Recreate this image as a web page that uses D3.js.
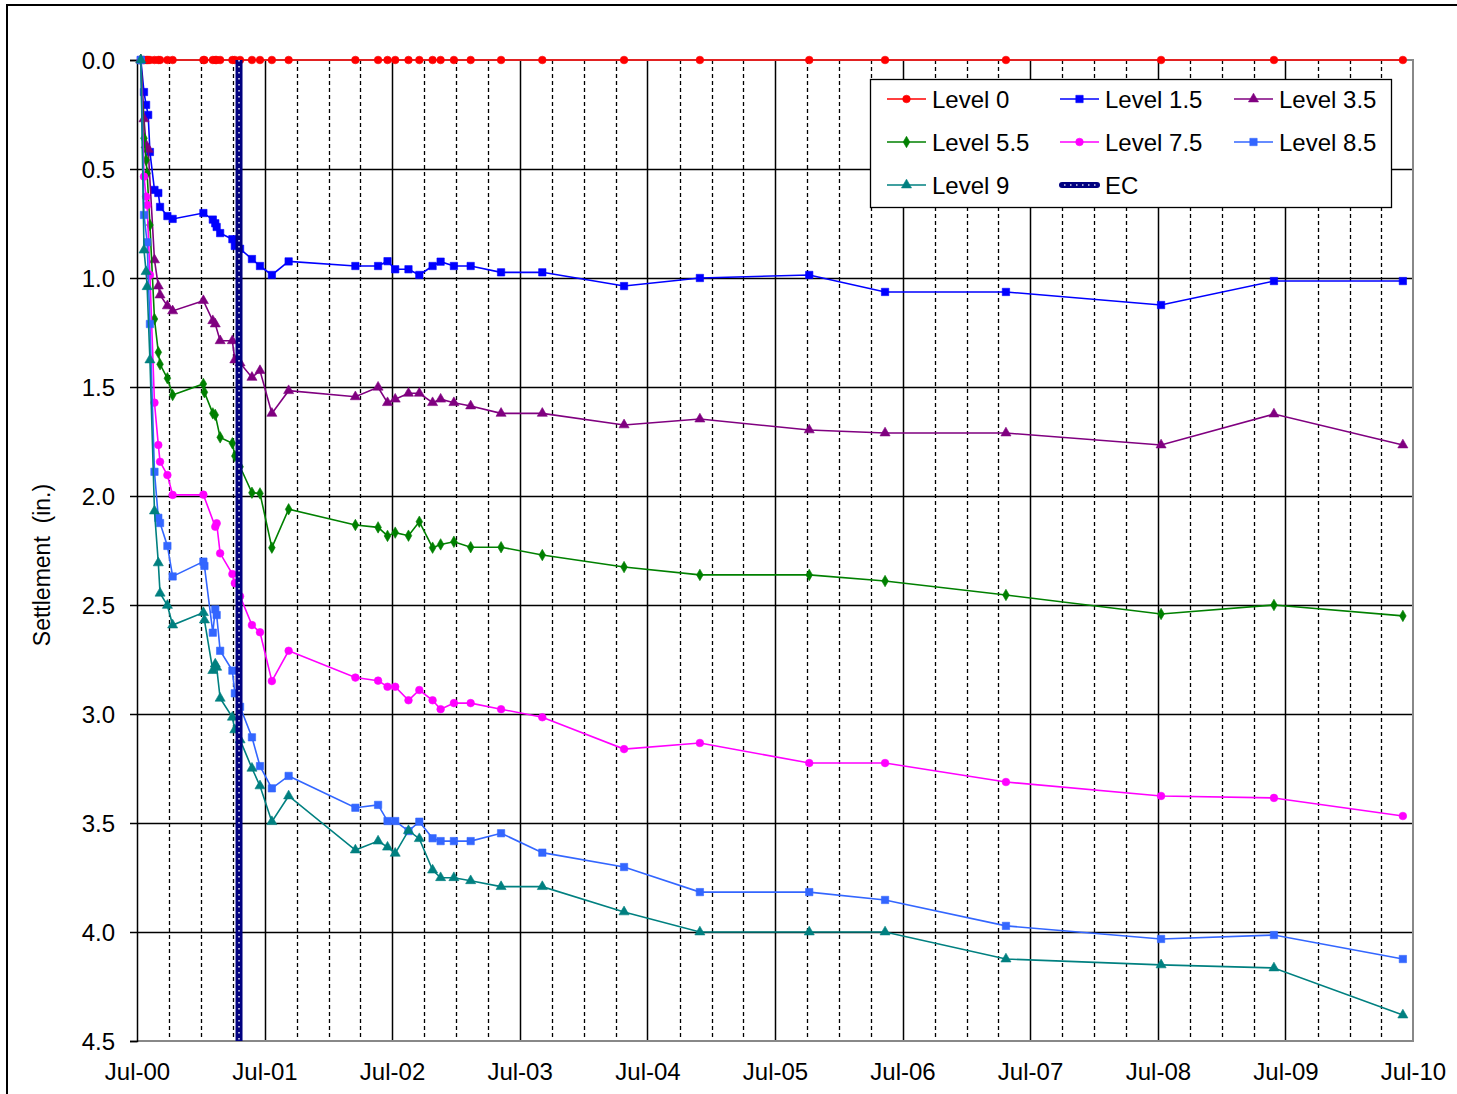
<!DOCTYPE html>
<html>
<head>
<meta charset="utf-8">
<script src="https://cdn.jsdelivr.net/npm/d3@7"></script>
<style>
  html, body { margin: 0; padding: 0; background: #fff; }
  svg { display: block; font-family: "Liberation Sans", Arial, sans-serif; }
</style>
</head>
<body>
<svg id="chart" width="1457" height="1094"></svg>
<script>
// Survey dates shared by all settlement gauges
const surveyDates = [
  "2000-07-12","2000-07-21","2000-07-27","2000-07-30","2000-08-02","2000-08-07","2000-08-20","2000-08-31","2000-09-05","2000-09-26","2000-10-11",
  "2001-01-07","2001-01-10","2001-02-03","2001-02-10","2001-02-14","2001-02-24","2001-03-31","2001-04-07","2001-04-22","2001-05-26","2001-06-18","2001-07-22","2001-09-08",
  "2002-03-18","2002-05-22","2002-06-18","2002-07-10","2002-08-17","2002-09-17","2002-10-25","2002-11-17","2002-12-25",
  "2003-02-11","2003-05-09","2003-09-04","2004-04-25","2004-11-28","2005-10-07","2006-05-12","2007-04-23","2008-07-10","2009-05-29","2010-06-02"
];

// Settlement (in.) per level; null = no reading on that date
const level0 = [
  0,0,0,0,0,0,0,0,0,0,0,
  0,0,0,0,0,0,0,0,0,0,0,0,0,
  0,0,0,0,0,0,0,0,0,
  0,0,0,0,0,0,0,0,0,0,0
];
const level1_5 = [
  0,0.147,0.206,null,0.252,0.422,0.596,0.61,0.674,0.716,0.729,
  0.702,null,0.732,0.749,0.766,0.794,0.822,0.853,0.866,0.913,0.945,0.986,0.924,
  0.945,0.945,0.923,0.960,0.960,0.986,0.945,0.925,0.945,
  0.945,0.974,0.974,1.037,1.0,0.986,1.064,1.064,1.124,1.014,1.014
];
const level3_5 = [
  0,0.27,0.39,null,0.41,null,0.917,1.037,1.078,1.128,1.151,
  1.104,null,1.196,1.211,null,1.288,1.288,1.376,1.39,1.456,1.425,1.621,1.517,
  1.545,1.501,1.572,1.556,1.529,1.529,1.572,1.556,1.572,
  1.587,1.621,1.621,1.674,1.647,1.697,1.711,1.711,1.766,1.624,1.766
];
const level5_5 = [
  0,0.359,0.459,0.52,null,0.757,1.188,1.341,1.396,1.46,1.537,
  1.486,1.524,1.621,1.628,null,1.731,1.758,1.817,1.866,1.985,1.988,2.237,2.061,
  2.133,2.144,2.183,2.168,2.182,2.118,2.237,2.222,2.21,
  2.235,2.235,2.271,2.326,2.362,2.362,2.39,2.454,2.541,2.5,2.55
];
const level7_5 = [
  0,0.535,0.627,0.665,null,0.986,1.572,1.766,1.843,1.904,1.995,
  1.994,null,null,2.141,2.125,2.263,2.358,2.4,2.46,2.592,2.625,2.849,2.71,
  2.833,2.847,2.875,2.875,2.937,2.89,2.937,2.978,2.95,
  2.95,2.978,3.015,3.161,3.133,3.225,3.225,3.312,3.376,3.385,3.468
];
const level8_5 = [
  0,0.711,null,0.836,null,1.211,1.889,2.10,2.124,2.229,2.369,
  2.301,2.321,2.627,2.52,2.546,2.71,2.801,2.905,2.967,3.107,3.239,3.341,3.284,
  3.43,3.417,3.491,3.491,3.537,3.494,3.57,3.583,3.583,
  3.583,3.547,3.636,3.702,3.817,3.817,3.853,3.972,4.032,4.014,4.124
];
const level9 = [
  0,0.872,0.971,1.04,null,1.376,2.069,2.307,2.446,2.502,2.592,
  2.535,2.569,2.801,2.771,2.786,2.928,3.015,3.073,3.119,3.249,3.33,3.494,3.376,
  3.624,3.583,3.611,3.639,3.535,3.572,3.716,3.751,3.751,
  3.765,3.792,3.792,3.908,4.0,4.0,4.0,4.124,4.151,4.165,4.381
];

// End of construction marker
const ecDates = ["2001-04-19", "2001-04-19"];
const ecValues = [0, 4.5];

// Axis tick labels
const yTickValues = [0, 0.5, 1.0, 1.5, 2.0, 2.5, 3.0, 3.5, 4.0, 4.5];
const xTickYears = ["2000-07-01","2001-07-01","2002-07-01","2003-07-01","2004-07-01","2005-07-01",
                    "2006-07-01","2007-07-01","2008-07-01","2009-07-01","2010-07-01"];

const seriesNames = ["Level 0","Level 1.5","Level 3.5","Level 5.5","Level 7.5","Level 8.5","Level 9"];
const seriesValues = [level0, level1_5, level3_5, level5_5, level7_5, level8_5, level9];
const seriesColors = ["#FF0000","#0000FF","#800080","#008000","#FF00FF","#3366FF","#008080"];
const seriesMarkers = ["circle","square","triangle","diamond","circle","square","triangle"];

const parse = d3.timeParse("%Y-%m-%d");
const svg = d3.select("#chart");

// Outer chart frame
svg.append("rect").attr("x", 7).attr("y", 5).attr("width", 1470).attr("height", 1120)
  .attr("fill", "none").attr("stroke", "#000").attr("stroke-width", 2);

const plotLeft = 137, plotRight = 1413, plotTop = 60, plotBottom = 1041;
const x = d3.scaleTime().domain([parse("2000-07-01"), parse("2010-07-01")]).range([plotLeft, plotRight]);
const y = d3.scaleLinear().domain([0, 4.5]).range([plotTop, plotBottom]);

// Quarterly (dashed) and yearly (solid) vertical gridlines
const months = d3.timeMonth.every(3).range(parse("2000-07-01"), parse("2010-07-02"));
const grid = svg.append("g");
grid.selectAll("line.q").data(months.filter(d => d.getMonth() !== 6)).enter().append("line")
  .attr("x1", d => Math.round(x(d)) + 0.5).attr("x2", d => Math.round(x(d)) + 0.5)
  .attr("y1", plotTop).attr("y2", plotBottom)
  .attr("stroke", "#000").attr("stroke-width", 1.3).attr("stroke-dasharray", "4,3");
grid.selectAll("line.yr").data(months.filter(d => d.getMonth() === 6 && x(d) > plotLeft + 1 && x(d) < plotRight - 1)).enter().append("line")
  .attr("x1", d => Math.round(x(d)) + 0.5).attr("x2", d => Math.round(x(d)) + 0.5)
  .attr("y1", plotTop).attr("y2", plotBottom)
  .attr("stroke", "#000").attr("stroke-width", 1.5);
// Horizontal gridlines
grid.selectAll("line.h").data(yTickValues.slice(1, -1)).enter().append("line")
  .attr("x1", plotLeft).attr("x2", plotRight)
  .attr("y1", d => Math.round(y(d)) + 0.5).attr("y2", d => Math.round(y(d)) + 0.5)
  .attr("stroke", "#000").attr("stroke-width", 1.5);

// Plot border (grey)
svg.append("path")
  .attr("d", `M${plotLeft},${plotTop}H${plotRight}V${plotBottom}H${plotLeft}`)
  .attr("fill", "none").attr("stroke", "#888").attr("stroke-width", 2);

// Y axis
const yAxis = svg.append("g").attr("transform", `translate(${plotLeft},0)`)
  .call(d3.axisLeft(y).tickValues(yTickValues).tickFormat(d3.format(".1f")).tickSize(7).tickPadding(15));
yAxis.select(".domain").attr("stroke", "#000").attr("stroke-width", 1.5);
yAxis.selectAll(".tick line").attr("stroke", "#000").attr("stroke-width", 1.5);
yAxis.selectAll(".tick text").attr("font-size", 24).attr("fill", "#000")
  .attr("font-family", "Liberation Sans, Arial, sans-serif").attr("dy", "0.36em");

// X axis
const xAxis = svg.append("g").attr("transform", `translate(0,${plotBottom})`)
  .call(d3.axisBottom(x).tickValues(xTickYears.map(parse)).tickFormat(d3.timeFormat("%b-%y")).tickSize(0).tickPadding(22));
xAxis.select(".domain").remove();
xAxis.selectAll(".tick text").attr("font-size", 24).attr("fill", "#000")
  .attr("font-family", "Liberation Sans, Arial, sans-serif");

// Y axis title
svg.append("text")
  .attr("transform", "translate(50,565) rotate(-90)")
  .attr("text-anchor", "middle")
  .attr("font-size", 23)
  .attr("xml:space", "preserve")
  .text("Settlement  (in.)");

// Markers
const markerSymbol = { circle: d3.symbolCircle, square: d3.symbolSquare, triangle: d3.symbolTriangle, diamond: d3.symbolDiamond };
const markerSize = { circle: 46, square: 54, triangle: 44, diamond: 38 };
function drawMarker(g, type, color, cx, cy) {
  g.append("path")
    .attr("d", d3.symbol().type(markerSymbol[type]).size(markerSize[type])())
    .attr("transform", `translate(${cx},${cy})`)
    .attr("fill", color).attr("stroke", color).attr("stroke-width", 0.6);
}

const line = d3.line().x(d => x(d.date)).y(d => y(d.value));
const seriesLayer = svg.append("g");
seriesNames.forEach((name, i) => {
  const pts = surveyDates.map((d, k) => ({ date: parse(d), value: seriesValues[i][k] }))
    .filter(p => p.value !== null);
  const g = seriesLayer.append("g");
  g.append("path").datum(pts).attr("d", line)
    .attr("fill", "none").attr("stroke", seriesColors[i]).attr("stroke-width", 1.6);
  pts.forEach(p => drawMarker(g, seriesMarkers[i], seriesColors[i], x(p.date), y(p.value)));
});

// EC line: thick navy with small light round dots along its centre
const ecPts = ecDates.map((d, k) => ({ date: parse(d), value: ecValues[k] }));
svg.append("path").datum(ecPts).attr("d", line)
  .attr("stroke", "#000080").attr("stroke-width", 7).attr("fill", "none");
svg.append("path").datum(ecPts).attr("d", line)
  .attr("stroke", "#d4d4ec").attr("stroke-width", 1.6).attr("stroke-dasharray", "1.6,4.4")
  .attr("stroke-linecap", "butt").attr("fill", "none");

// Legend
const legend = svg.append("g");
legend.append("rect").attr("x", 870.5).attr("y", 79.5).attr("width", 521).attr("height", 128)
  .attr("fill", "#fff").attr("stroke", "#000").attr("stroke-width", 1.3);
const legCols = [887, 1060, 1234];
const legRows = [99, 142, 185];
const legendItems = seriesNames.map((n, i) => ({ name: n, color: seriesColors[i], marker: seriesMarkers[i] }))
  .concat([{ name: "EC", color: "#000080", marker: null }]);
legendItems.forEach((it, i) => {
  const cx = legCols[i % 3], cy = legRows[Math.floor(i / 3)];
  if (it.marker) {
    legend.append("line").attr("x1", cx).attr("x2", cx + 39).attr("y1", cy).attr("y2", cy)
      .attr("stroke", it.color).attr("stroke-width", 1.6);
    drawMarker(legend, it.marker, it.color, cx + 19.5, cy);
  } else {
    legend.append("line").attr("x1", cx + 2).attr("x2", cx + 37).attr("y1", cy).attr("y2", cy)
      .attr("stroke", it.color).attr("stroke-width", 6).attr("stroke-linecap", "round");
    legend.append("line").attr("x1", cx + 4).attr("x2", cx + 37).attr("y1", cy).attr("y2", cy)
      .attr("stroke", "#d4d4ec").attr("stroke-width", 1.5).attr("stroke-dasharray", "1.5,4.5");
  }
  legend.append("text").attr("x", cx + 45).attr("y", cy + 8.5)
    .attr("font-size", 24).attr("fill", "#000").text(it.name);
});
</script>
</body>
</html>
